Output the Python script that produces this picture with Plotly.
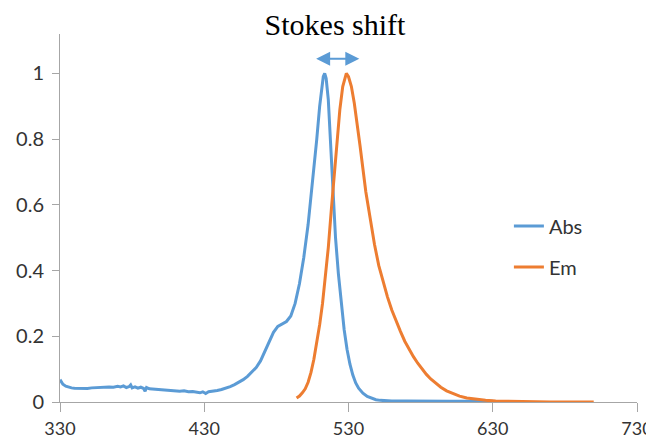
import plotly.graph_objects as go

# Absorbance (Abs)
abs_x = [330, 331, 332, 334, 336, 338, 340, 343, 346, 349, 352, 355, 358, 361, 364, 367, 370,
         372, 374, 376, 378, 379, 380, 382, 384, 386, 388, 389, 390, 392, 395, 398, 401, 404,
         407, 410, 413, 416, 419, 422, 425, 427, 429, 431, 433, 436, 439, 442, 445, 448, 451,
         454, 457, 460, 463, 466, 469, 472, 475, 478, 481, 484, 487, 490, 493, 496, 499, 502,
         505, 508, 510, 511.5, 512.5, 513.5, 514.5, 516, 517.5, 519, 521, 523, 525, 527, 529,
         531, 533, 535, 537, 540, 543, 546, 549, 552, 556, 560, 570, 580, 590, 600, 610, 620, 630]
abs_y = [0.068, 0.06, 0.054, 0.048, 0.045, 0.043, 0.042, 0.041, 0.042, 0.041, 0.043, 0.044,
         0.043, 0.045, 0.046, 0.045, 0.048, 0.046, 0.049, 0.044, 0.047, 0.052, 0.043, 0.046,
         0.042, 0.045, 0.041, 0.033, 0.044, 0.040, 0.039, 0.037, 0.038, 0.035, 0.036, 0.034,
         0.033, 0.034, 0.031, 0.032, 0.030, 0.028, 0.031, 0.026, 0.031, 0.032, 0.035, 0.038,
         0.042, 0.047, 0.053, 0.060, 0.068, 0.078, 0.090, 0.105, 0.125, 0.155, 0.185, 0.212,
         0.230, 0.238, 0.245, 0.262, 0.300, 0.360, 0.440, 0.540, 0.660, 0.800, 0.900, 0.960,
         0.990, 1.000, 0.985, 0.920, 0.800, 0.660, 0.500, 0.390, 0.300, 0.220, 0.160, 0.115,
         0.082, 0.058, 0.042, 0.027, 0.017, 0.011, 0.007, 0.005, 0.004, 0.003, 0.003, 0.002,
         0.003, 0.002, 0.002, 0.002, 0.002]

# Emission (Em)
em_x = [494, 496, 498, 500, 502, 504, 506, 508, 510, 512, 514, 516, 518, 520, 522, 524, 526,
        527.5, 528.5, 530, 532, 534, 536, 538, 540, 542, 545, 548, 551, 554, 557, 560, 563,
        566, 569, 572, 575, 578, 581, 584, 587, 590, 594, 598, 602, 607, 612, 618, 625, 632,
        640, 650, 660, 670, 680, 690, 700]
em_y = [0.012, 0.018, 0.028, 0.040, 0.060, 0.090, 0.130, 0.180, 0.235, 0.300, 0.380, 0.470,
        0.580, 0.690, 0.800, 0.890, 0.960, 0.990, 1.000, 0.990, 0.960, 0.910, 0.850, 0.780,
        0.710, 0.640, 0.560, 0.480, 0.415, 0.365, 0.320, 0.280, 0.245, 0.215, 0.185, 0.160,
        0.138, 0.118, 0.100, 0.084, 0.070, 0.058, 0.045, 0.034, 0.026, 0.018, 0.012, 0.008,
        0.005, 0.003, 0.002, 0.001, 0.001, 0.0, 0.0, 0.0, 0.0]

x_ticks = [330, 430, 530, 630, 730]
y_ticks = [0, 0.2, 0.4, 0.6, 0.8, 1]
arrow_x = [506.5, 537.5]
arrow_y = 1.045

BLUE = "#5B9BD5"
ORANGE = "#ED7D31"

fig = go.Figure()
fig.add_trace(go.Scatter(x=abs_x, y=abs_y, mode="lines", name="Abs", legendgroup="a",
                         line=dict(color=BLUE, width=3)))
fig.add_trace(go.Scatter(x=em_x, y=em_y, mode="lines", name="Em", legendgroup="b",
                         line=dict(color=ORANGE, width=3)))

fig.add_annotation(x=arrow_x[1], y=arrow_y, ax=arrow_x[0], ay=arrow_y,
                   xref="x", yref="y", axref="x", ayref="y", text="",
                   showarrow=True, arrowhead=2, startarrowhead=2, arrowside="end+start",
                   arrowsize=1.4, startarrowsize=1.4, arrowwidth=2, arrowcolor=BLUE)

tick_font = dict(family="Lato, Liberation Sans, sans-serif", size=20, color="#333333")
x_tick_font = dict(family="Lato, Liberation Sans, sans-serif", size=18, color="#333333")

fig.update_layout(
    width=654, height=441,
    margin=dict(l=52, r=25, t=26, b=47),
    paper_bgcolor="white", plot_bgcolor="white",
    title=dict(text="Stokes shift", x=0.5, xanchor="center", y=0.962, yanchor="middle",
               font=dict(family="Liberation Serif, Times New Roman, serif", size=30, color="black")),
    showlegend=True,
    legend=dict(x=0.778, y=0.531, xanchor="left", yanchor="top", bgcolor="rgba(0,0,0,0)",
                font=tick_font, tracegroupgap=12, traceorder="grouped"),
    xaxis=dict(range=[330, 730], tickvals=x_ticks, ticktext=[str(v) for v in x_ticks],
               showgrid=False, zeroline=False, showline=True, linecolor="#A6A6A6", linewidth=1,
               ticks="outside", ticklen=9, tickcolor="#A6A6A6", tickfont=x_tick_font,
               ticklabelstandoff=1, automargin=False),
    yaxis=dict(range=[0, 1.12], tickvals=y_ticks, ticktext=["0", "0.2", "0.4", "0.6", "0.8", "1"],
               showgrid=False, zeroline=False, showline=True, linecolor="#A6A6A6", linewidth=1,
               ticks="outside", ticklen=7, tickcolor="#A6A6A6", tickfont=tick_font,
               ticklabelstandoff=4, automargin=False),
)

fig.write_html("out.html")
